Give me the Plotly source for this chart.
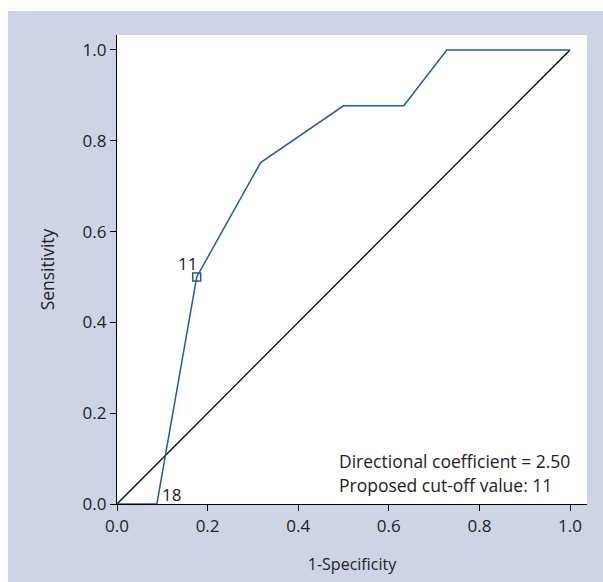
import plotly.graph_objects as go

fpr = [0.0, 0.088, 0.176, 0.317, 0.5, 0.633, 0.728, 1.0]
tpr = [0.0, 0.0, 0.5, 0.752, 0.877, 0.877, 1.0, 1.0]
diag_x = [0.0, 1.0]
diag_y = [0.0, 1.0]
cut_x = [0.176]
cut_y = [0.5]
cut_label = ["11"]
low_x = [0.088]
low_y = [0.0]
low_label = ["18"]
ticks = [0.0, 0.2, 0.4, 0.6, 0.8, 1.0]
tick_text = ["0.0", "0.2", "0.4", "0.6", "0.8", "1.0"]
notes = ["Directional coefficient = 2.50", "Proposed cut-off value: 11"]

BLUE = "#1d5ca6"
FONT = "Open Sans"
TXT = "#222222"

fig = go.Figure()
fig.add_trace(go.Scatter(x=diag_x, y=diag_y, mode="lines",
                         line=dict(color="black", width=1.3), hoverinfo="skip"))
fig.add_trace(go.Scatter(x=fpr, y=tpr, mode="lines",
                         line=dict(color=BLUE, width=1.5)))
fig.add_trace(go.Scatter(x=cut_x, y=cut_y, mode="markers",
                         marker=dict(symbol="square-open", size=8, color=BLUE,
                                     line=dict(width=1.5, color=BLUE))))

fig.add_annotation(x=cut_x[0], y=cut_y[0], xref="x", yref="y", text=cut_label[0],
                   showarrow=False, xanchor="right", yanchor="bottom",
                   xshift=2, yshift=0, font=dict(family=FONT, size=17, color=TXT))
fig.add_annotation(x=low_x[0], y=low_y[0], xref="x", yref="y", text=low_label[0],
                   showarrow=False, xanchor="left", yanchor="bottom",
                   xshift=3, yshift=-4, font=dict(family=FONT, size=17, color=TXT))

ann_y = [0.0947, 0.0419]
for t, yy in zip(notes, ann_y):
    fig.add_annotation(x=0.486, y=yy, xref="x", yref="y", text=t, showarrow=False,
                       xanchor="left", yanchor="middle",
                       font=dict(family=FONT, size=17.5, color=TXT))

# white strips at top (11px) and left (8px), outside the lavender frame
fig.add_shape(type="rect", xref="paper", yref="paper", x0=-0.3, x1=1.1,
              y0=(504 - 11) / 469, y1=1.1, fillcolor="white", line=dict(width=0),
              layer="below")
fig.add_shape(type="rect", xref="paper", yref="paper", x0=-0.3, x1=(8 - 117) / 470,
              y0=-0.3, y1=1.1, fillcolor="white", line=dict(width=0), layer="below")

axis_common = dict(
    tickvals=ticks, ticktext=tick_text, ticks="outside", ticklen=6, tickwidth=1.3,
    tickcolor="black", showline=True, linecolor="black", linewidth=1.3,
    showgrid=False, zeroline=False, tickfont=dict(family=FONT, size=17, color=TXT),
)
fig.update_xaxes(range=[0, 1.0375], title=dict(text="1-Specificity", standoff=23,
                 font=dict(family=FONT, size=16, color=TXT)), **axis_common)
fig.update_yaxes(range=[0, 1.033], title=dict(text="Sensitivity", standoff=23,
                 font=dict(family=FONT, size=17.5, color=TXT)), **axis_common)

fig.update_layout(
    width=603, height=582,
    margin=dict(l=117, r=16, t=35, b=78),
    paper_bgcolor="#cfd3e6", plot_bgcolor="white",
    showlegend=False,
)
fig.write_html("out.html", default_width="603px", default_height="582px",
               config={"displayModeBar": False},
               post_script="document.body.style.margin='0';document.body.style.overflow='hidden';")
